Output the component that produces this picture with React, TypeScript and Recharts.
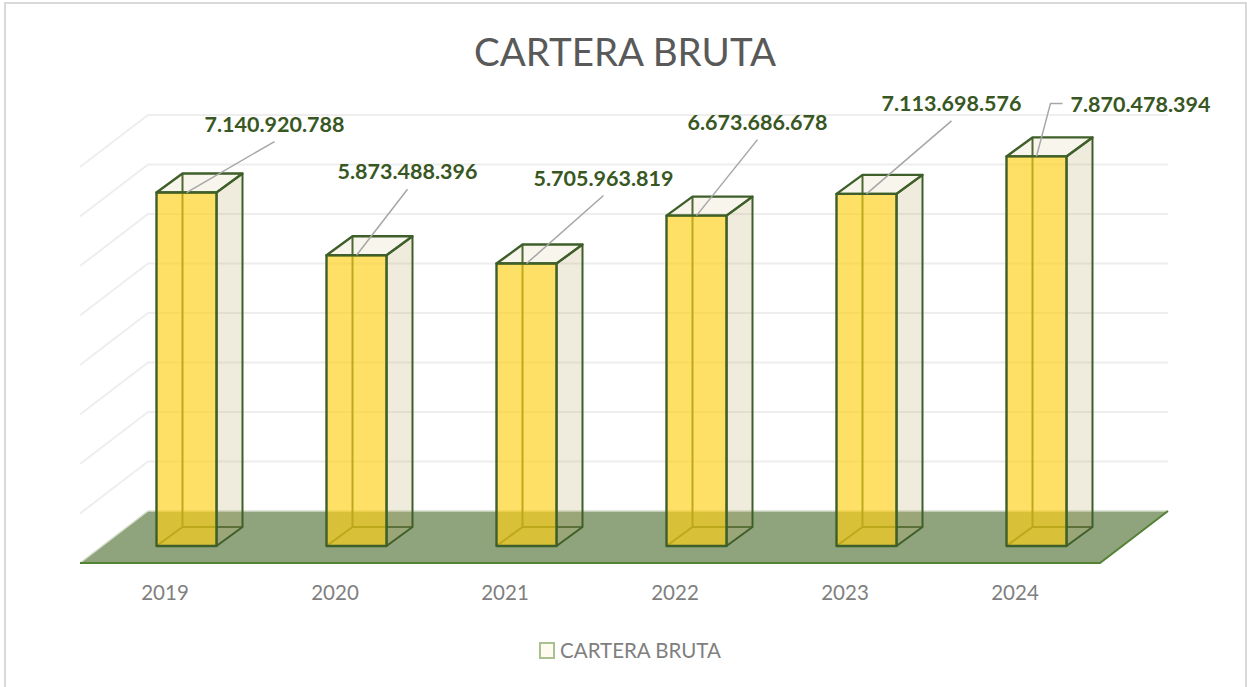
import { Bar, BarChart, CartesianGrid, LabelList, Legend, XAxis, YAxis } from "recharts";

const TITLE = "CARTERA BRUTA";
const years = ["2019", "2020", "2021", "2022", "2023", "2024"];
const cartera = [7140920788, 5873488396, 5705963819, 6673686678, 7113698576, 7870478394];
const valueTicks = [0, 1e9, 2e9, 3e9, 4e9, 5e9, 6e9, 7e9, 8e9];

const data = years.map((year, i) => ({ year, cartera: cartera[i] }));

// leader line end relative to the top centre of each bar
const leaderEnds = [
  { dx: 88, dy: -51 },
  { dx: 51, dy: -66 },
  { dx: 77, dy: -68 },
  { dx: 61, dy: -76 },
  { dx: 85, dy: -73 },
  { dx: 26, dy: -53 },
];

const DEPTH_X = 26;
const DEPTH_Y = 19;
const BAR_SHIFT = 21.5;
const BAR_LINE = "#3F5F2A";

const fmt = (v: number) => String(v).replace(/\B(?=(\d{3})+$)/g, ".");

function GridLine(props: any) {
  const { x1, x2, y1 } = props;
  const bx = 68;
  const up = 35;
  const down = 17;
  if (y1 > 530) {
    return (
      <g>
        <polygon
          points={`${x1},${y1 + down} ${x2},${y1 + down} ${x2 + bx},${y1 - up} ${x1 + bx},${y1 - up}`}
          fill="#8FA47C"
        />
        <path d={`M${x1 + bx},${y1 - up} H${x2 + bx}`} stroke="#D5DDCB" strokeWidth={1.5} fill="none" />
        <path d={`M${x1},${y1 + down} L${x1 + bx},${y1 - up}`} stroke="#D5DDCB" strokeWidth={1.5} fill="none" />
        <path
          d={`M${x1},${y1 + down} H${x2} L${x2 + bx},${y1 - up}`}
          stroke="#548235"
          strokeWidth={2}
          fill="none"
        />
      </g>
    );
  }
  return (
    <path
      d={`M${x1},${y1 + down} L${x1 + bx},${y1 - up} H${x2 + bx}`}
      stroke="#EEEEEE"
      strokeWidth={2}
      fill="none"
    />
  );
}

function Box3D(props: any) {
  const { width: w, y, height: h } = props;
  const x = props.x + BAR_SHIFT;
  const b = y + h;
  const xb = x + DEPTH_X;
  const yb = y - DEPTH_Y;
  return (
    <g strokeLinejoin="round">
      {/* back and inner edges first so the faces tint them */}
      <path
        d={`M${xb},${yb} V${b - DEPTH_Y} H${xb + w} M${x},${b} L${xb},${b - DEPTH_Y}`}
        stroke={BAR_LINE}
        strokeWidth={2}
        fill="none"
      />
      <polygon
        points={`${x + w},${y} ${xb + w},${yb} ${xb + w},${b - DEPTH_Y} ${x + w},${b}`}
        fill="#BFAE6C"
        fillOpacity={0.23}
        stroke={BAR_LINE}
        strokeWidth={2}
      />
      <polygon
        points={`${x},${y} ${xb},${yb} ${xb + w},${yb} ${x + w},${y}`}
        fill="#BFAE6C"
        fillOpacity={0.13}
        stroke={BAR_LINE}
        strokeWidth={2.4}
      />
      <rect x={x} y={y} width={w} height={h} fill="#FFCF14" fillOpacity={0.65} />
      <rect x={x} y={y} width={w} height={h} fill="none" stroke={BAR_LINE} strokeWidth={2.4} />
    </g>
  );
}

function ValueLabel(props: any) {
  const { x, y, width, value, index } = props;
  const sx = x + BAR_SHIFT + width / 2;
  const end = leaderEnds[index];
  const ex = sx + end.dx;
  const ey = y + end.dy;
  const last = index === years.length - 1;
  return (
    <g>
      <path
        d={last ? `M${sx},${y} L${ex - 12},${ey} H${ex}` : `M${sx},${y} L${ex},${ey}`}
        stroke="#A6A6A6"
        strokeWidth={1.5}
        fill="none"
      />
      <text
        x={last ? ex + 8 : ex}
        y={last ? ey + 1 : ey - 18}
        textAnchor={last ? "start" : "middle"}
        dominantBaseline="central"
        fontFamily="Lato"
        fontWeight={700}
        fontSize={21.5}
        fill="#385723"
      >
        {fmt(value)}
      </text>
    </g>
  );
}

function LegendBox() {
  return (
    <div
      style={{
        display: "flex",
        alignItems: "center",
        justifyContent: "center",
        gap: 5,
        paddingLeft: 80,
        fontFamily: "Lato",
        fontSize: 20.5,
        color: "#7F7F7F",
      }}
    >
      <span
        style={{
          width: 12,
          height: 13,
          border: "2px solid #A9C08F",
          background: "#FFFBEF",
          display: "inline-block",
        }}
      />
      {TITLE}
    </div>
  );
}

export default function App() {
  return (
    <div
      style={{
        position: "absolute",
        left: 0,
        top: 0,
        width: 1247,
        height: 687,
        overflow: "hidden",
        background: "#FFFFFF",
      }}
    >
      <style>{"body{margin:0}"}</style>
      <div
        style={{
          position: "absolute",
          left: 4,
          top: 2,
          width: 1239,
          height: 690,
          border: "2px solid #D9D9D9",
        }}
      />
      <div
        style={{
          position: "absolute",
          left: 0,
          top: 28,
          width: 1250,
          textAlign: "center",
          fontFamily: "Lato",
          fontSize: 38.5,
          color: "#595959",
          lineHeight: "46px",
        }}
      >
        {TITLE}
      </div>
      <div style={{ position: "absolute", left: 0, top: 0 }}>
        <BarChart
          width={1247}
          height={687}
          data={data}
          margin={{ top: 150, right: 147, bottom: 25, left: 80 }}
          barSize={60}
        >
          <CartesianGrid vertical={false} horizontal={GridLine as any} horizontalValues={valueTicks} />
          <XAxis
            dataKey="year"
            height={92}
            axisLine={false}
            tickLine={false}
            tickMargin={33}
            tick={{ fontFamily: "Lato", fontSize: 20.5, fill: "#7F7F7F" }}
          />
          <YAxis hide domain={[0, 8e9]} ticks={valueTicks} />
          <Legend verticalAlign="bottom" content={<LegendBox />} />
          <Bar dataKey="cartera" name={TITLE} shape={<Box3D />} isAnimationActive={false}>
            <LabelList dataKey="cartera" content={<ValueLabel />} />
          </Bar>
        </BarChart>
      </div>
    </div>
  );
}
